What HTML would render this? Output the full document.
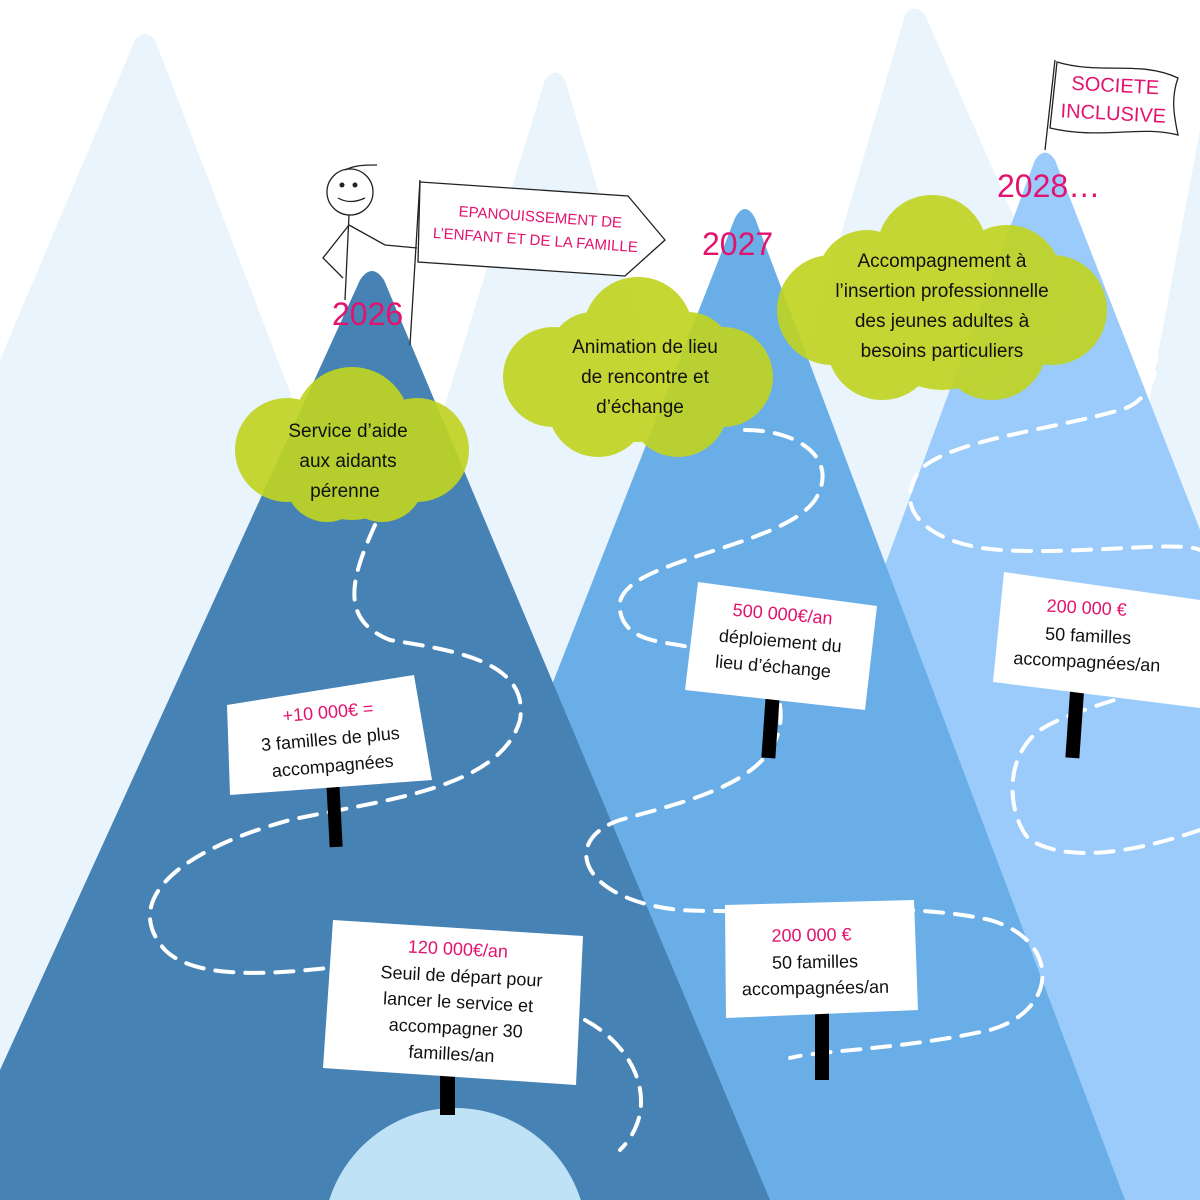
<!DOCTYPE html>
<html><head><meta charset="utf-8"><style>
html,body{margin:0;padding:0;background:#fff;width:1200px;height:1200px;overflow:hidden}
svg{display:block}
text{font-family:"Liberation Sans",sans-serif}
</style></head><body>
<svg width="1200" height="1200" viewBox="0 0 1200 1200" xmlns="http://www.w3.org/2000/svg">
<rect width="1200" height="1200" fill="#fff"/>
<g fill="#e9f4fc">
<path d="M135,40 Q145,28 155,40 L600,1200 L0,1200 L0,360 Z"/>
<path d="M545,80 Q555,65 565,80 L900,1200 L200,1200 Z"/>
<path d="M905,15 Q915,2 925,15 L1200,640 L1200,1200 L560,1200 Z"/>
<path d="M1200,130 L1200,1200 L1000,1200 Z"/>
</g>
<path d="M1035,160 Q1045,145 1055,160 L1200,530 L1200,1200 L650,1200 Z" fill="#9acbfa"/>
<path d="M735,218 Q745,200 755,218 L1125,1200 L350,1200 Z" fill="#6aaee8"/>
<path d="M360,280 Q372,262 384,280 L770,1200 L0,1200 L0,1070 Z" fill="#4782b4"/>
<circle cx="455" cy="1240" r="132" fill="#c0e2f7"/>
<g fill="none" stroke="#fff" stroke-width="4" stroke-dasharray="18,12" stroke-linecap="round">
<path d="M375,525 C350,580 340,620 390,640 C450,650 530,660 520,720 C500,790 380,800 290,820 C180,850 120,900 165,950 C200,985 300,970 330,968"/>
<path d="M585,1020 C640,1050 660,1110 620,1150"/>
<path d="M745,430 C800,430 840,460 815,500 C780,550 610,560 620,610 C625,650 690,640 690,650"/>
<path d="M780,705 C790,780 690,800 620,820 C560,840 580,900 680,910 C780,915 900,900 990,920 C1060,940 1060,1010 990,1030 C900,1050 820,1050 790,1058"/>
<path d="M1135,320 C1170,340 1160,400 1120,410 C1050,430 950,440 920,470 C890,510 930,545 1000,550 C1080,555 1180,540 1200,550"/>
<path d="M1200,675 C1150,690 1070,710 1040,730 C1000,760 1010,820 1030,840 C1080,870 1170,840 1200,830"/>
</g>
<g fill="#bfd421" opacity="0.92">
<g transform="translate(352,445)">
<circle cx="-65" cy="5" r="52"/><circle cx="65" cy="5" r="52"/><circle cx="0" cy="-20" r="58"/><circle cx="-25" cy="35" r="42"/><circle cx="30" cy="35" r="42"/><circle cx="0" cy="15" r="60"/>
</g>
<g transform="translate(638,372)">
<circle cx="-85" cy="5" r="50"/><circle cx="85" cy="5" r="50"/><circle cx="0" cy="-40" r="55"/><circle cx="-40" cy="35" r="50"/><circle cx="40" cy="35" r="50"/><circle cx="-45" cy="-15" r="45"/><circle cx="50" cy="-15" r="45"/><circle cx="0" cy="5" r="65"/>
</g>
<g transform="translate(942,305)">
<circle cx="-110" cy="5" r="55"/><circle cx="110" cy="5" r="55"/><circle cx="-10" cy="-55" r="55"/><circle cx="-60" cy="40" r="55"/><circle cx="50" cy="40" r="55"/><circle cx="-75" cy="-25" r="50"/><circle cx="65" cy="-25" r="55"/><circle cx="0" cy="10" r="75"/>
</g>
</g>
<g font-size="19" fill="#111" text-anchor="middle">
<text x="348" y="437">Service d’aide</text>
<text x="348" y="467">aux aidants</text>
<text x="345" y="497">pérenne</text>
<text x="645" y="353">Animation de lieu</text>
<text x="645" y="383">de rencontre et</text>
<text x="640" y="413">d’échange</text>
<text x="942" y="267">Accompagnement à</text>
<text x="942" y="297">l’insertion professionnelle</text>
<text x="942" y="327">des jeunes adultes à</text>
<text x="942" y="357">besoins particuliers</text>
</g>
<g fill="#e2136e" font-size="32">
<text x="332" y="325">2026</text>
<text x="702" y="255">2027</text>
<text x="997" y="197">2028…</text>
</g>
<g stroke="#222" stroke-width="1.3" fill="none">
<circle cx="350" cy="192" r="23" fill="#fff"/>
<path d="M345,170 C355,165 365,165 377,165"/>
<path d="M338,198 Q350,205 365,198"/>
<path d="M349,215 L345,300"/>
<path d="M349,225 L323,258 L343,278"/>
<path d="M349,225 L385,245 L417,248"/>
<path d="M420,180 L410,345"/>
<path d="M420,182 L628,196 L665,240 L625,276 L418,262 Z" fill="#fff"/>
</g>
<circle cx="342" cy="185" r="2.5" fill="#222"/><circle cx="355" cy="185" r="2.5" fill="#222"/>
<g fill="#e2136e" font-size="15" text-anchor="middle">
<text x="540" y="222" transform="rotate(4 540 222)">EPANOUISSEMENT DE</text>
<text x="535" y="245" transform="rotate(4 535 245)">L’ENFANT ET DE LA FAMILLE</text>
</g>
<g stroke="#222" stroke-width="1.3" fill="#fff">
<path d="M1055,60 L1045,150" fill="none"/>
<path d="M1057,62 C1100,75 1140,60 1178,78 C1170,100 1175,120 1178,135 C1140,125 1100,140 1050,128 Z"/>
</g>
<g fill="#e2136e" font-size="20" text-anchor="middle">
<text x="1115" y="92" transform="rotate(3 1115 92)">SOCIETE</text>
<text x="1113" y="120" transform="rotate(3 1113 120)">INCLUSIVE</text>
</g>
<g fill="#000">
<rect x="328" y="785" width="13" height="62" transform="rotate(-3 334 815)"/>
<rect x="440" y="1070" width="15" height="45"/>
<rect x="764" y="690" width="14" height="68" transform="rotate(4 770 720)"/>
<rect x="815" y="1005" width="14" height="75"/>
<rect x="1068" y="690" width="14" height="68" transform="rotate(4 1075 720)"/>
</g>
<g fill="#fff">
<polygon points="227,705 414,675 432,780 230,795"/>
<polygon points="333,920 583,936 576,1085 323,1068"/>
<polygon points="698,582 877,606 865,710 685,690"/>
<polygon points="725,905 914,900 918,1010 726,1018"/>
<polygon points="1004,572 1200,600 1200,708 993,682"/>
</g>
<g font-size="18" text-anchor="middle" fill="#111">
<g transform="rotate(-5 330 735)">
<text x="330" y="718" fill="#e2136e">+10 000€ =</text>
<text x="330" y="745">3 familles de plus</text>
<text x="330" y="772">accompagnées</text>
</g>
<g transform="rotate(3 455 1005)">
<text x="455" y="955" fill="#e2136e">120 000€/an</text>
<text x="460" y="982">Seuil de départ pour</text>
<text x="458" y="1008">lancer le service et</text>
<text x="457" y="1034">accompagner 30</text>
<text x="454" y="1060">familles/an</text>
</g>
<g transform="rotate(5 780 645)">
<text x="780" y="620" fill="#e2136e">500 000€/an</text>
<text x="780" y="647">déploiement du</text>
<text x="775" y="673">lieu d’échange</text>
</g>
<g transform="rotate(-1 815 960)">
<text x="812" y="941" fill="#e2136e">200 000 €</text>
<text x="815" y="968">50 familles</text>
<text x="815" y="994">accompagnées/an</text>
</g>
<g transform="rotate(3 1090 640)">
<text x="1085" y="614" fill="#e2136e">200 000 €</text>
<text x="1088" y="642">50 familles</text>
<text x="1088" y="668">accompagnées/an</text>
</g>
</g>
</svg>
</body></html>
